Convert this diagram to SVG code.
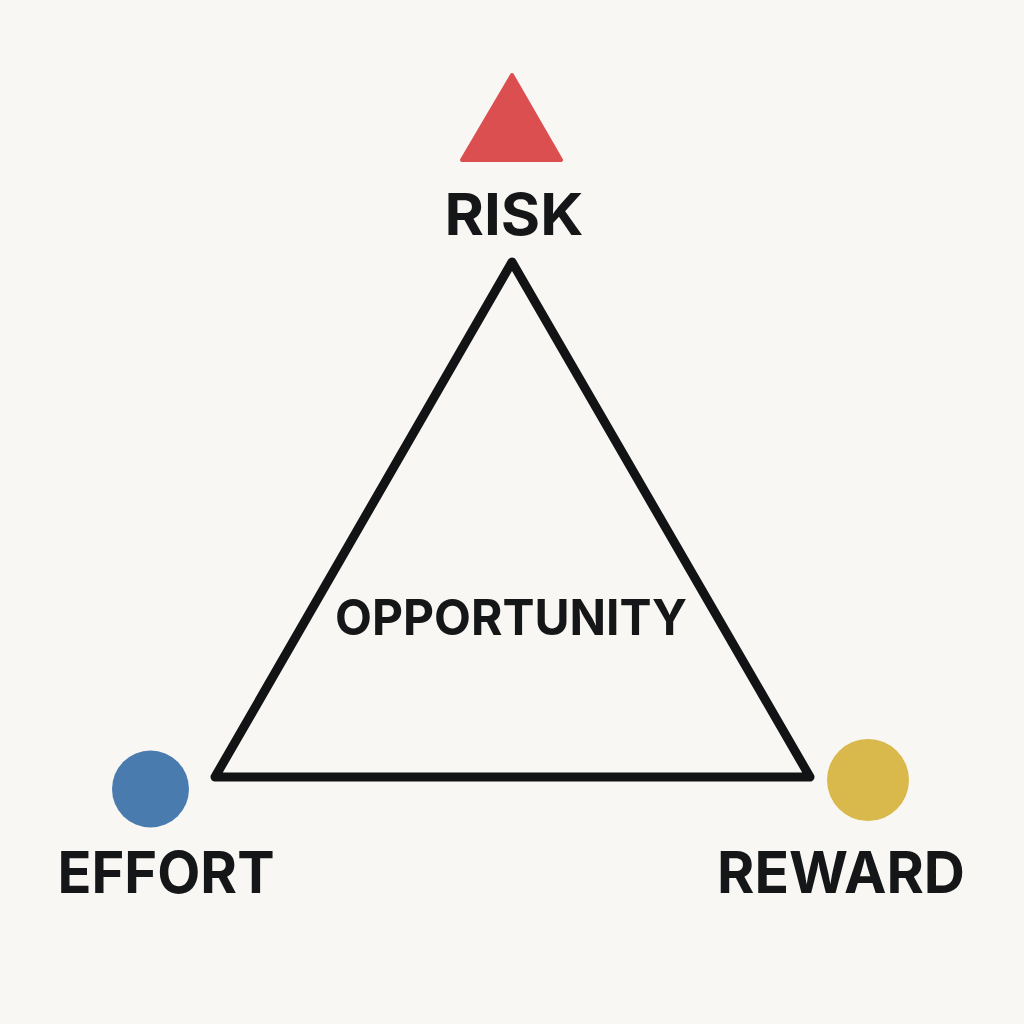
<svg xmlns="http://www.w3.org/2000/svg" width="1024" height="1024" viewBox="0 0 1024 1024">
<style>
.lbl{font-family:Inter,"Liberation Sans",sans-serif;font-weight:700;fill:#141617;text-anchor:middle}
.big{font-size:58px}
.mid{font-size:50px}
</style>
<rect width="1024" height="1024" fill="#f9f7f3"/>
<g id="connectors">
<path d="M512,262 L810,777 L215,777 Z" fill="none" stroke="#111314" stroke-width="9" stroke-linejoin="round"/>
</g>
<g id="risk">
<path d="M512,75 L561,160 L462,160 Z" fill="#db4f51" stroke="#db4f51" stroke-width="4" stroke-linejoin="round"/>
<text class="lbl big" x="514" y="235" textLength="139" lengthAdjust="spacingAndGlyphs">RISK</text>
</g>
<g id="effort">
<circle cx="150.5" cy="789" r="38.5" fill="#4a7bae"/>
<text class="lbl big" x="166" y="893" textLength="217" lengthAdjust="spacingAndGlyphs">EFFORT</text>
</g>
<g id="reward">
<circle cx="868" cy="780" r="41" fill="#d9b84c"/>
<text class="lbl big" x="841" y="893" textLength="248" lengthAdjust="spacingAndGlyphs">REWARD</text>
</g>
<g id="opportunity">
<text class="lbl mid" x="511" y="635" textLength="352" lengthAdjust="spacingAndGlyphs">OPPORTUNITY</text>
</g>
</svg>
